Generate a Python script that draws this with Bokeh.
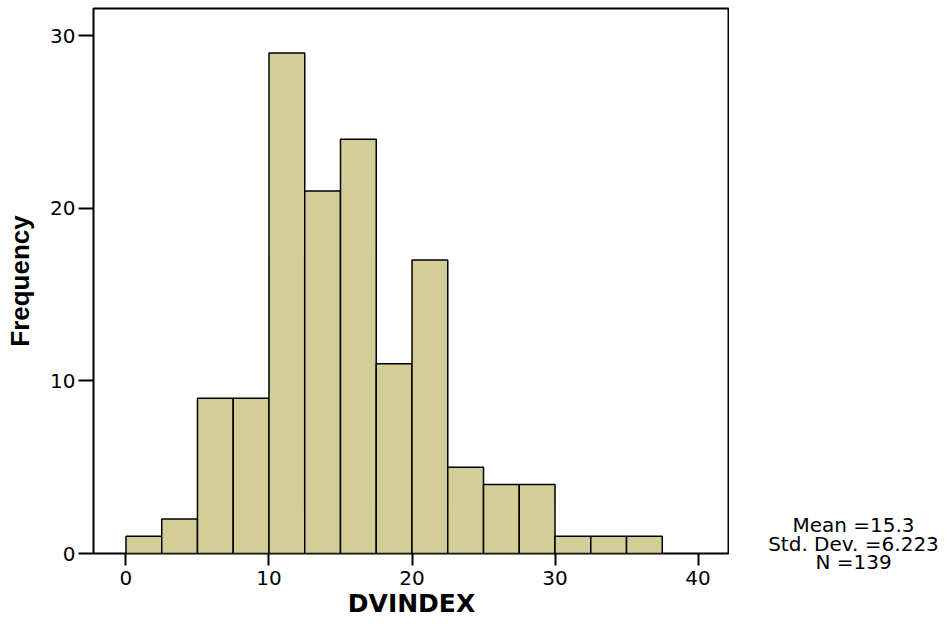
from bokeh.plotting import figure
from bokeh.models import Range1d, FixedTicker, ColumnDataSource
from bokeh.layouts import row
from bokeh.core.properties import value
from bokeh.embed import file_html
from bokeh.resources import INLINE

# Data
bin_left = [0, 2.5, 5, 7.5, 10, 12.5, 15, 17.5, 20, 22.5, 25, 27.5, 30, 32.5, 35]
bin_width = 2.5
counts = [1, 2, 9, 9, 29, 21, 24, 11, 17, 5, 4, 4, 1, 1, 1]
x_ticks = [0, 10, 20, 30, 40]
y_ticks = [0, 10, 20, 30]
stat_lines = ["Mean =15.3", "Std. Dev. =6.223", "N =139"]

src = ColumnDataSource(dict(
    left=bin_left,
    right=[b + bin_width for b in bin_left],
    top=counts,
    bottom=[0] * len(counts),
))

p = figure(width=729, height=626, output_backend="svg", toolbar_location=None,
           x_range=Range1d(-2.27, 42.2), y_range=Range1d(0, 31.58),
           min_border_left=93, min_border_right=0, min_border_top=8,
           min_border_bottom=73)

p.quad(left="left", right="right", top="top", bottom="bottom", source=src,
       fill_color="#D3CE97", line_color="black", line_width=1.5)

p.xgrid.visible = False
p.ygrid.visible = False
p.outline_line_color = "black"
p.outline_line_width = 2
p.background_fill_color = "white"
p.border_fill_color = "white"

for ax in (p.xaxis[0], p.yaxis[0]):
    ax.axis_line_color = None
    ax.major_tick_in = 0
    ax.major_tick_line_color = "black"
    ax.major_tick_line_width = 2
    ax.minor_tick_line_color = None
    ax.major_label_text_font = "DejaVu Sans"
    ax.major_label_text_font_size = "20px"
    ax.major_label_text_color = "black"
    ax.axis_label_text_color = "black"

p.xaxis.ticker = FixedTicker(ticks=x_ticks)
p.yaxis.ticker = FixedTicker(ticks=y_ticks)
p.xaxis.major_tick_out = 12
p.yaxis.major_tick_out = 15
p.xaxis.major_label_standoff = 5
p.yaxis.major_label_standoff = 3

p.xaxis.axis_label = "DVINDEX"
p.xaxis.axis_label_text_font = "DejaVu Sans"
p.xaxis.axis_label_text_font_style = "bold"
p.xaxis.axis_label_text_font_size = "25px"
p.xaxis.axis_label_standoff = 1

p.yaxis.axis_label = "Frequency"
p.yaxis.axis_label_text_font = "Liberation Sans"
p.yaxis.axis_label_text_font_style = "bold"
p.yaxis.axis_label_text_font_size = "26px"
p.yaxis.axis_label_standoff = 12

# side panel carrying the summary statistics text (pixel-like coordinates)
s = figure(width=219, height=626, output_backend="svg", toolbar_location=None,
           x_range=Range1d(0, 219), y_range=Range1d(626, 0),
           min_border=0, outline_line_color=None)
s.frame_align = False
s.axis.visible = False
s.grid.visible = False
s.background_fill_color = "white"
s.border_fill_color = "white"
s.text(x=[124] * len(stat_lines), y=[524.5, 543, 561.5], text=stat_lines,
       text_align="center", text_baseline="alphabetic",
       text_font=value("DejaVu Sans"), text_font_size="20px", text_color="black")

layout = row(p, s, spacing=0)
open("out.html", "w").write(file_html(layout, INLINE))
